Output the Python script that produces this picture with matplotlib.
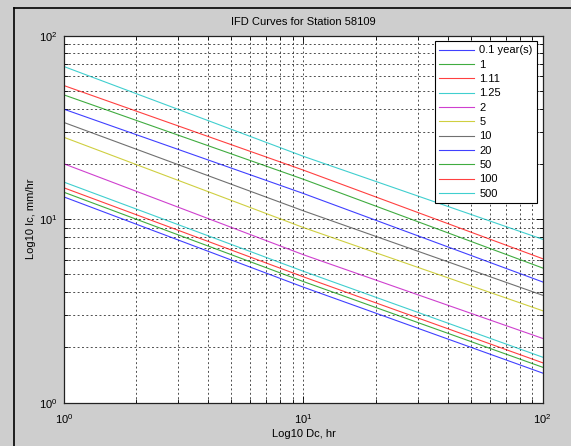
import matplotlib
matplotlib.use("Agg")
import matplotlib.pyplot as plt
from matplotlib.lines import Line2D
import numpy as np

plt.rcParams['font.family'] = ['Liberation Sans', 'DejaVu Sans']
plt.rcParams['mathtext.default'] = 'regular'

# Durations (hr) at which intensities were read
durations = [1, 10, 100]
labels = ['0.1 year(s)', '1', '1.11', '1.25', '2', '5', '10', '20', '50', '100', '500']
intensity = {
    '0.1 year(s)': [13.2, 4.26, 1.45],
    '1':           [14.0, 4.57, 1.56],
    '1.11':        [14.8, 4.85, 1.65],
    '1.25':        [15.9, 5.20, 1.77],
    '2':           [20.0, 6.40, 2.24],
    '5':           [27.9, 9.00, 3.17],
    '10':          [33.6, 11.1, 3.85],
    '20':          [39.7, 13.8, 4.55],
    '50':          [47.5, 16.5, 5.42],
    '100':         [53.4, 18.5, 6.09],
    '500':         [67.8, 22.0, 7.77],
}
colors = ['#0000ff', '#009000', '#ff0000', '#00bfbf', '#bf00bf', '#bfbf00', '#404040',
          '#0000ff', '#009000', '#ff0000', '#00bfbf']

W, H = 571, 446
FS = 8
fig = plt.figure(figsize=(W / 100, H / 100), dpi=100, facecolor='#cecece')
ax = fig.add_axes([64.3 / W, 43.3 / H, 478.4 / W, 367.0 / H])
ax.set_facecolor('white')

for lab, c in zip(labels, colors):
    ax.plot(durations, intensity[lab], color=c, lw=0.8, alpha=0.75, label=lab)

ax.set_xscale('log')
ax.set_yscale('log')
ax.set_xlim(1, 100)
ax.set_ylim(1, 100)

ax.grid(True, which='both', color='#222222', lw=0.7, linestyle=(0, (2, 2.5)), alpha=0.8)
ax.tick_params(which='both', direction='in', top=True, right=True, labelsize=FS,
               colors='black')
ax.tick_params(which='major', length=5, width=0.6)
ax.tick_params(axis='x', which='major', pad=7)
ax.tick_params(axis='y', which='major', pad=5)
ax.tick_params(which='minor', length=3, width=0.6)
for s in ax.spines.values():
    s.set_color('#222222')
    s.set_linewidth(0.9)

ax.set_title('IFD Curves for Station 58109', fontsize=FS, pad=8)
ax.set_xlabel('Log10 Dc, hr', fontsize=FS, labelpad=2)
ax.set_ylabel('Log10 Ic, mm/hr', fontsize=FS, labelpad=2)

leg = ax.legend(loc='upper right', bbox_to_anchor=(0.988, 0.9856), borderaxespad=0,
                fontsize=FS, fancybox=False, edgecolor='black', framealpha=1,
                handlelength=3.15, handletextpad=0.45, labelspacing=0.39,
                borderpad=0.4)
leg.get_frame().set_linewidth(0.8)

# window border lines (left and top)
fig.add_artist(Line2D([13.5 / W, 13.5 / W], [0, 1 - 7.5 / H], color='black', lw=1.2,
                      transform=fig.transFigure))
fig.add_artist(Line2D([13.5 / W, 1], [1 - 7.5 / H, 1 - 7.5 / H], color='black', lw=1.2,
                      transform=fig.transFigure))

fig.savefig('out.png', dpi=100, facecolor=fig.get_facecolor())
